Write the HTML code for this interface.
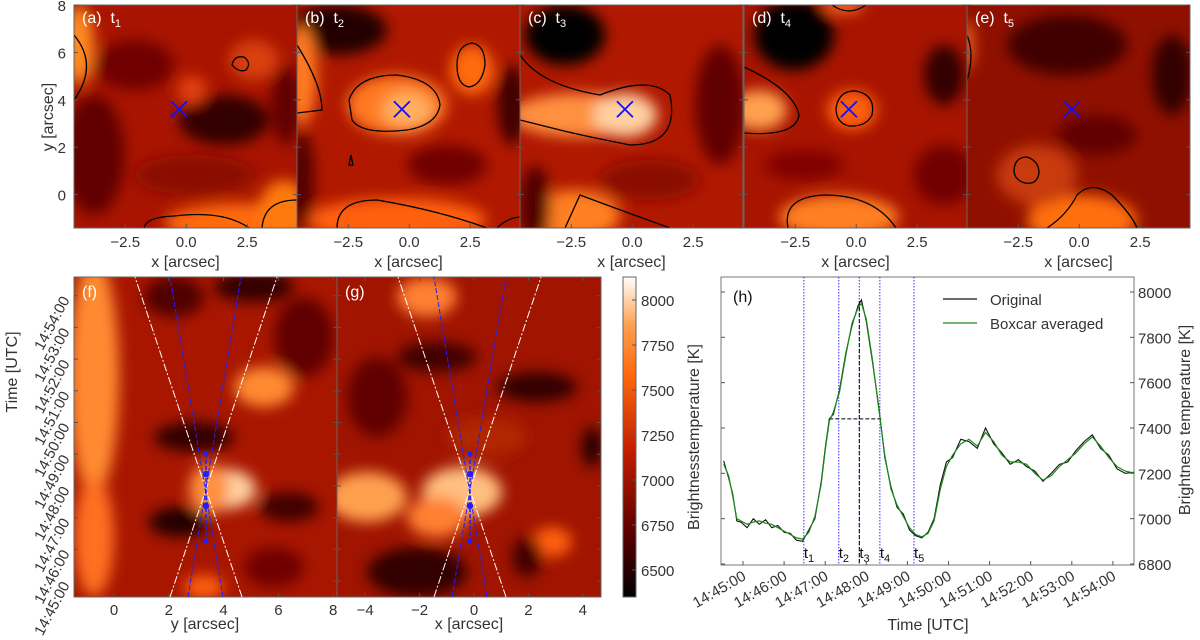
<!DOCTYPE html>
<html><head><meta charset="utf-8"><style>
html,body{margin:0;padding:0;background:#fff;}
svg{display:block;font-family:"Liberation Sans",sans-serif;}
</style></head><body>
<svg id="fig" width="1200" height="640" viewBox="0 0 1200 640" xmlns="http://www.w3.org/2000/svg">
<defs>
<filter id="blur" x="-20%" y="-20%" width="140%" height="140%"><feGaussianBlur stdDeviation="7"/></filter>
<linearGradient id="cbar" x1="0" y1="1" x2="0" y2="0">
<stop offset="0" stop-color="#000000"/><stop offset="0.2" stop-color="#5a0000"/><stop offset="0.45" stop-color="#c01c00"/><stop offset="0.7" stop-color="#ff6a10"/><stop offset="0.85" stop-color="#ffa050"/><stop offset="1" stop-color="#ffffff"/>
</linearGradient>
</defs>
<g id="root"></g>
</svg>
<script>
// ---- chart (h) data ----
const timeMin = [-0.47,-0.35,-0.25,-0.15,-0.05,0.1,0.25,0.4,0.55,0.7,0.85,1.0,1.15,1.3,1.45,1.6,1.75,1.9,2.0,2.1,2.2,2.35,2.5,2.65,2.8,2.88,3.0,3.15,3.3,3.45,3.6,3.75,3.9,4.05,4.2,4.35,4.5,4.65,4.8,4.95,5.1,5.3,5.5,5.7,5.9,6.1,6.3,6.5,6.7,6.9,7.1,7.3,7.5,7.7,7.9,8.1,8.3,8.5,8.7,8.9,9.1,9.3,9.55];
const tempBoxcar = [7240,7190,7100,7000,6990,6975,6985,6990,6980,6975,6960,6945,6930,6915,6910,6940,7010,7150,7300,7430,7470,7560,7720,7860,7930,7950,7880,7700,7490,7280,7130,7060,7010,6960,6930,6920,6935,6990,7130,7230,7280,7330,7350,7320,7380,7340,7280,7250,7250,7240,7200,7170,7190,7230,7260,7290,7330,7360,7320,7270,7230,7210,7200];
const tempOriginal = [7255,7180,7110,6990,6985,6960,7000,6975,6995,6960,6970,6940,6935,6905,6900,6950,7000,7160,7310,7440,7460,7570,7730,7850,7940,7965,7870,7690,7500,7270,7140,7050,7020,6950,6925,6915,6940,7000,7150,7250,7270,7350,7340,7310,7400,7330,7290,7240,7260,7230,7210,7165,7200,7240,7250,7300,7340,7370,7310,7280,7220,7200,7205];
const eventTimes = [1.48,2.33,2.83,3.33,4.16];
const eventLabels = ["1","2","3","4","5"];
const fwhmLevel = 7440;
const fwhmStart = 2.1, fwhmEnd = 3.38;
const peakTime = 2.83;
const xTickMin = [0,1,2,3,4,5,6,7,8,9];
const xTickLabels = ["14:45:00","14:46:00","14:47:00","14:48:00","14:49:00","14:50:00","14:51:00","14:52:00","14:53:00","14:54:00"];
const yTickVals = [6800,7000,7200,7400,7600,7800,8000];
const cbTickVals = [6500,6750,7000,7250,7500,7750,8000];

const NS="http://www.w3.org/2000/svg";
const root=document.getElementById('root');
function el(tag,attrs,parent){const e=document.createElementNS(NS,tag);for(const k in attrs)e.setAttribute(k,attrs[k]);(parent||root).appendChild(e);return e;}
function txt(x,y,s,size,anchor,parent,extra){const t=el('text',Object.assign({x:x,y:y,'font-size':size,'text-anchor':anchor||'middle',fill:'#333'},extra||{}),parent);t.textContent=s;return t;}

function heatPanel(name,x0,y0,w,h,base,blobs,contours){
  const g=el('g',{});
  
  
  const cid='clip-'+name;
  const cp=el('clipPath',{id:cid},g);el('rect',{x:x0,y:y0,width:w,height:h},cp);
  const img=el('g',{'clip-path':'url(#'+cid+')'},g);
  el('rect',{x:x0,y:y0,width:w,height:h,fill:base},img);
  const bg=el('g',{filter:'url(#blur)'},img);
  blobs.forEach(b=>el('ellipse',{cx:x0+b[0],cy:y0+b[1],rx:b[2],ry:b[3],fill:b[4]},bg));
  const cg=el('g',{transform:'translate('+x0+','+y0+')',fill:'none',stroke:'#000','stroke-width':1.3},img);
  (contours||[]).forEach(d=>{const p=el('path',{d:d},cg);});
  el('rect',{x:x0,y:y0,width:w,height:h,fill:'none',stroke:'#666','stroke-width':1},g);
  return g;
}
const PW=223,PT=5,PH=223;
const panelsX=[74,297,520,744,967];
const tops=[
 {base:'#a81400',blobs:[[150,115,45,25,'#300000'],[20,150,30,60,'#600300'],[5,40,15,40,'#ff8a20'],[170,218,80,20,'#ff6a10'],[210,205,25,30,'#ff7a10'],[118,85,15,15,'#e04010'],[180,55,25,20,'#d84010'],[212,100,15,40,'#600000'],[60,60,40,25,'#700500'],[120,170,60,20,'#8a0a00']],
  contours:['M158,60 Q160,50 170,52 Q178,58 172,65 Q165,68 158,60 Z','M0,30 Q25,60 0,95','M70,223 Q72,212 100,211 Q150,205 175,223','M188,223 Q190,195 223,195']},
 {base:'#b01800',blobs:[[40,25,50,25,'#200000'],[100,100,50,30,'#ff7a20'],[110,105,25,18,'#ffb060'],[5,70,15,50,'#ff7a20'],[175,65,22,25,'#ff6a10'],[100,215,90,22,'#ff6010'],[215,100,15,40,'#400000'],[5,175,12,50,'#500000'],[150,160,40,20,'#700500']],
  contours:['M52,95 Q60,70 100,70 Q140,75 143,100 Q140,120 110,125 Q65,130 55,115 Z','M160,60 Q160,40 175,38 Q188,40 188,60 Q185,80 172,82 Q160,80 160,60 Z','M0,40 Q25,80 25,105 L0,108','M40,223 Q40,195 80,195 Q140,205 190,223','M200,223 Q210,213 223,212','M52,160 L54,150 L56,160 Z']},
 {base:'#b01800',blobs:[[45,30,40,30,'#000000'],[60,110,70,22,'#ff9040'],[105,110,32,22,'#ffd0a0'],[55,210,45,25,'#ff8020'],[200,100,25,60,'#600000'],[15,200,15,40,'#500000'],[130,175,50,20,'#8a0800']],
  contours:['M0,50 Q20,80 80,90 Q130,70 150,90 Q160,140 110,140 Q60,130 40,125 Q20,120 0,115','M45,223 L60,190 Q100,205 150,223']},
 {base:'#a81400',blobs:[[50,30,40,35,'#000000'],[15,105,28,20,'#ffa050'],[108,105,25,20,'#ff6010'],[95,212,60,22,'#ff8020'],[200,70,20,30,'#300000'],[100,0,20,8,'#ff7020'],[200,170,30,30,'#700500'],[60,160,40,15,'#800600']],
  contours:['M0,62 Q50,85 55,110 Q52,132 0,128','M92,103 Q95,85 112,86 Q132,90 128,110 Q122,122 105,121 Q92,118 92,103 Z','M44,223 Q38,192 80,190 Q130,190 152,223','M88,0 Q105,12 122,0']},
 {base:'#901000',blobs:[[100,40,60,30,'#400000'],[205,70,20,40,'#300000'],[115,215,55,25,'#ff7010'],[70,170,40,30,'#c83a10'],[0,40,6,25,'#ff7020'],[130,130,40,20,'#600300']],
  contours:['M47,165 Q48,152 60,152 Q72,156 72,168 Q70,180 58,178 Q47,175 47,165 Z','M80,223 Q100,210 110,190 Q125,175 145,190 Q165,210 170,223','M0,30 Q8,50 0,75']}
];
const tLetters=['a','b','c','d','e'];
const xTicksTop=[-2.5,0,2.5];
const yTicksTop=[0,2,4,6,8];
function txTop(x0,v){return x0+(v+4.6)*24.4;}
function tyTop(v){return PT+(8-v)*23.7;}
tops.forEach((p,i)=>{
  const x0=panelsX[i];
  heatPanel('panel-'+tLetters[i],x0,PT,PW,PH,p.base,p.blobs,p.contours);
  const lab=el('text',{x:x0+8,y:PT+18,'font-size':16,fill:'#fff'});
  
  
  lab.innerHTML='('+tLetters[i]+')&#160;&#160;t<tspan font-size="11" dy="4">'+(i+1)+'</tspan>';
  const mx=txTop(x0,-0.3),my=tyTop(3.6);
  const m=el('path',{d:`M${mx-8},${my-8}L${mx+8},${my+8}M${mx+8},${my-8}L${mx-8},${my+8}`,stroke:'#1010ff','stroke-width':1.8});
  
  
  xTicksTop.forEach(v=>{const x=txTop(x0,v);el('line',{x1:x,x2:x,y1:PT+PH,y2:PT+PH-4,stroke:'#555'});const t=txt(x,PT+PH+19,v.toFixed(1).replace('-','−'),15);});
  yTicksTop.forEach(v=>{const y=tyTop(v);el('line',{x1:x0,x2:x0+4,y1:y,y2:y,stroke:'#555'});el('line',{x1:x0+PW,x2:x0+PW-4,y1:y,y2:y,stroke:'#555'});});
  const xl=txt(x0+PW/2,PT+PH+39,'x [arcsec]',16);
  
  
});
yTicksTop.forEach(v=>{const t=txt(66,tyTop(v)+6,String(v),15,'end');});
{const t=txt(0,0,'y [arcsec]',16,'middle',root,{transform:'translate(53,117) rotate(-90)'});}

const BT=277,BH=320;
function tyB(m){return 581-m*31.7;}
heatPanel('panel-f',74,BT,263,BH,'#a81600',[[20,100,25,120,'#ff8a30'],[20,260,20,60,'#ff7020'],[152,212,30,20,'#ffd0a0'],[135,212,20,25,'#ff9040'],[190,110,30,20,'#ff8a30'],[120,160,40,15,'#300000'],[105,245,30,15,'#200000'],[180,10,40,15,'#300000'],[215,230,30,15,'#400000'],[100,20,30,20,'#500000'],[130,310,20,12,'#ff6010'],[230,60,30,40,'#600300'],[200,290,30,20,'#700500']],[]);
heatPanel('panel-g',337,BT,264,BH,'#a01400',[[30,220,40,25,'#ffa050'],[125,215,40,25,'#ffc080'],[100,240,30,20,'#ff8030'],[90,20,30,20,'#ff8030'],[80,295,50,25,'#300000'],[200,110,40,15,'#300000'],[100,80,40,15,'#400000'],[255,170,10,20,'#200000'],[215,265,20,15,'#ff6010'],[190,280,15,20,'#400000'],[40,120,30,40,'#600300'],[150,160,40,20,'#b02800']],[]);
[['f',74],['g',337]].forEach(a=>{const t=txt(a[1]+8,BT+20,'('+a[0]+')',16,'start',root,{fill:'#fff'});});
function cone(name,cx,wb1,wt1,wb2,wt2,bb1,bt1,bb2,bt2){
  const g=el('g',{});
  el('line',{x1:wb1,y1:BT+BH,x2:wt1,y2:BT,stroke:'#fff','stroke-width':1,'stroke-dasharray':'8,2,2,2'},g);
  el('line',{x1:wb2,y1:BT+BH,x2:wt2,y2:BT,stroke:'#fff','stroke-width':1,'stroke-dasharray':'8,2,2,2'},g);
  el('line',{x1:bb1,y1:BT+BH,x2:bt1,y2:BT,stroke:'#2020ff','stroke-width':1,'stroke-dasharray':'5,2'},g);
  el('line',{x1:bb2,y1:BT+BH,x2:bt2,y2:BT,stroke:'#2020ff','stroke-width':1,'stroke-dasharray':'5,2'},g);
  el('line',{x1:cx,y1:454,x2:cx,y2:541,stroke:'#2020ff','stroke-width':1.5,'stroke-dasharray':'4,2'},g);
  [454,474,506,541].forEach((y,i)=>el('circle',{cx:cx,cy:y,r:i==0||i==3?2.5:3.2,fill:'#2020ff'},g));
}
cone('cone-f',206,170,277,242,135,188,241,223,170);
cone('cone-g',470,434,541,506,398,452,506,487,434);
const fTicks=[0,2,4,6,8], gTicks=[-4,-2,0,2,4];
fTicks.forEach(v=>{const x=114+v*27.4;el('line',{x1:x,x2:x,y1:BT+BH,y2:BT+BH-4,stroke:'#555'});el('line',{x1:x,x2:x,y1:BT,y2:BT+4,stroke:'#555'});const t=txt(x,BT+BH+18,String(v),15);});
gTicks.forEach(v=>{const x=474+v*27.2;el('line',{x1:x,x2:x,y1:BT+BH,y2:BT+BH-4,stroke:'#555'});el('line',{x1:x,x2:x,y1:BT,y2:BT+4,stroke:'#555'});const t=txt(x,BT+BH+18,String(v).replace('-','−'),15);});
{let t=txt(205,629,'y [arcsec]',16);
 t=txt(469,629,'x [arcsec]',16);}
xTickMin.forEach((m,i)=>{const y=tyB(m);
  [[74,1],[337,1],[337,-1],[601,-1]].forEach(a=>el('line',{x1:a[0],x2:a[0]+4*a[1],y1:y,y2:y,stroke:'#555'}));
  const t=txt(0,0,xTickLabels[i],15,'end',root,{transform:`translate(70,${y+4}) rotate(-62)`});
  
  
});
{const t=txt(0,0,'Time [UTC]',16,'middle',root,{transform:'translate(17,372) rotate(-90)'});}
{const r=el('rect',{x:623,y:BT,width:13,height:BH,fill:'url(#cbar)',stroke:'#666'});}
function cbY(v){return 570-(v-6500)*0.18;}
cbTickVals.forEach(v=>{const y=cbY(v);el('line',{x1:636,x2:632,y1:y,y2:y,stroke:'#555'});const t=txt(641,y+6,String(v),15,'start');});
{const t=txt(0,0,'Brightnesstemperature [K]',16,'middle',root,{transform:'translate(699,437) rotate(-90)'});}

const HX0=721,HX1=1134,HY0=277,HY1=565;
function xs(t){return 743+t*41.1;}
function ys(T){return 564-(T-6800)*0.2267;}
const hg=el('g',{});


el('rect',{x:HX0,y:HY0,width:HX1-HX0,height:HY1-HY0,fill:'#fff',stroke:'#777'},hg);
const cpH=el('clipPath',{id:'clipH'},hg);el('rect',{x:HX0,y:HY0,width:HX1-HX0,height:HY1-HY0},cpH);
const hc=el('g',{'clip-path':'url(#clipH)'},hg);
eventTimes.forEach((t,i)=>{const x=xs(t);
  const l=el('line',{x1:x,x2:x,y1:HY0,y2:HY1,stroke:'#3030ff','stroke-width':1,'stroke-dasharray':'1.5,1.5'},hc);
  
  
  const tt=el('text',{x:x,y:558,'font-size':15,fill:'#111'},hg);
  
  
  tt.innerHTML='t<tspan font-size="11" dy="4">'+eventLabels[i]+'</tspan>';
});
{const l=el('line',{x1:xs(fwhmStart),x2:xs(fwhmEnd),y1:ys(fwhmLevel),y2:ys(fwhmLevel),stroke:'#000','stroke-dasharray':'4,2'},hc);
 const v=el('line',{x1:xs(peakTime),x2:xs(peakTime),y1:ys(7960),y2:HY1,stroke:'#000','stroke-dasharray':'4,2'},hc);}
{const p=el('path',{d:'M'+timeMin.map((t,i)=>xs(t).toFixed(1)+','+ys(tempOriginal[i]).toFixed(1)).join('L'),fill:'none',stroke:'#111','stroke-width':1.1},hc);}
{const p=el('path',{d:'M'+timeMin.map((t,i)=>xs(t).toFixed(1)+','+ys(tempBoxcar[i]).toFixed(1)).join('L'),fill:'none',stroke:'#1a8a1a','stroke-width':1.2},hc);}
xTickMin.forEach((m,i)=>{const x=xs(m);el('line',{x1:x,x2:x,y1:HY1,y2:HY1-4,stroke:'#555'},hg);
  const t=txt(0,0,xTickLabels[i],15,'end',hg,{transform:`translate(${x+4},${HY1+14}) rotate(-30)`});
  
  
});
yTickVals.forEach(v=>{const y=ys(v);el('line',{x1:HX1,x2:HX1-4,y1:y,y2:y,stroke:'#555'},hg);el('line',{x1:HX0,x2:HX0+4,y1:y,y2:y,stroke:'#555'},hg);
  const t=txt(HX1+4,y+6,String(v),15,'start',hg);
  
  
});
{let t=txt(928,630,'Time [UTC]',16,'middle',hg);
 t=txt(0,0,'Brightness temperature [K]',16,'middle',hg,{transform:'translate(1190,420) rotate(-90)'});
 t=txt(733,302,'(h)',16,'start',hg,{fill:'#111'});}
{const lg=el('g',{},hg);
 el('line',{x1:943,x2:977,y1:299,y2:299,stroke:'#111','stroke-width':1.2},lg);
 el('line',{x1:943,x2:977,y1:323,y2:323,stroke:'#1a8a1a','stroke-width':1.2},lg);
 let t=txt(990,305,'Original',15,'start',lg);
 t=txt(990,329,'Boxcar averaged',15,'start',lg);}
</script>
</body></html>
